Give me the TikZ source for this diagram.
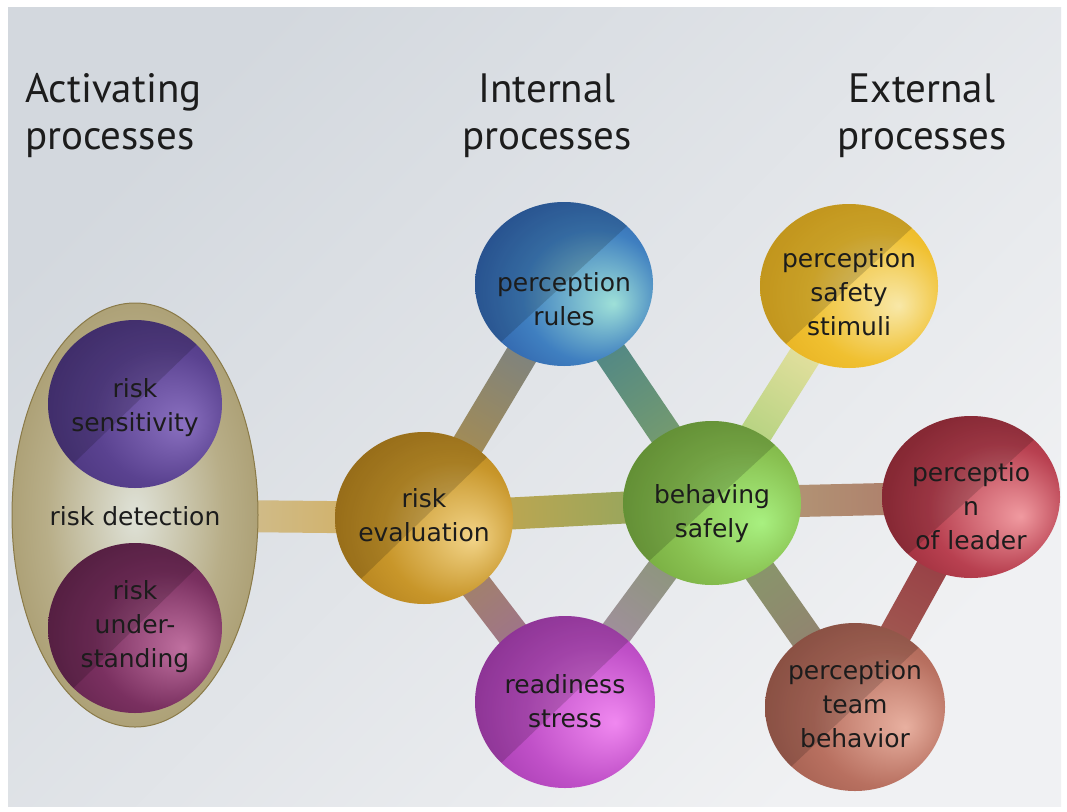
\documentclass[tikz,border=0pt]{standalone}
\usepackage{fontspec}
\setmainfont{DejaVu Sans}
\newfontfamily\headfont{PT Sans}
\usetikzlibrary{shapes.geometric,calc}
\pgfdeclarelayer{back}
\pgfdeclarelayer{bars}
\pgfsetlayers{back,bars,main}

% ball colours: light, mid, dark
\definecolor{prL}{HTML}{9EE0D8}\definecolor{prM}{HTML}{3F7FC0}\definecolor{prD}{HTML}{1D3D8F}
\definecolor{psL}{HTML}{F8E8A8}\definecolor{psM}{HTML}{F0C030}\definecolor{psD}{HTML}{DCA010}
\definecolor{bsL}{HTML}{A8F080}\definecolor{bsM}{HTML}{88C050}\definecolor{bsD}{HTML}{5F8F2A}
\definecolor{plL}{HTML}{F09AA0}\definecolor{plM}{HTML}{B84050}\definecolor{plD}{HTML}{7A1822}
\definecolor{ptL}{HTML}{E8B0A0}\definecolor{ptM}{HTML}{B87060}\definecolor{ptD}{HTML}{8A4A3C}
\definecolor{rdL}{HTML}{F088F0}\definecolor{rdM}{HTML}{C050C8}\definecolor{rdD}{HTML}{8A2896}
\definecolor{reL}{HTML}{F2D488}\definecolor{reM}{HTML}{C8962A}\definecolor{reD}{HTML}{9A680E}
\definecolor{rsL}{HTML}{8A70C0}\definecolor{rsM}{HTML}{5A4290}\definecolor{rsD}{HTML}{3A2868}
\definecolor{ruL}{HTML}{C070A0}\definecolor{ruM}{HTML}{7A3060}\definecolor{ruD}{HTML}{4A1838}
\definecolor{deL}{HTML}{DFE2D8}\definecolor{deM}{HTML}{B8AE88}\definecolor{deD}{HTML}{9A8A58}\definecolor{deE}{HTML}{8A7A48}
\definecolor{bgA}{HTML}{D3D8DE}\definecolor{bgB}{HTML}{F0F1F3}
\definecolor{txt}{HTML}{1C1C1C}

\newcommand\mkball[4]{%
  \pgfdeclareradialshading{ball#1}{\pgfpoint{14bp}{-6bp}}{color(0bp)=(#2); color(20bp)=(#3); color(46bp)=(#4); color(50bp)=(#4)}}
\mkball{pr}{prL}{prM}{prD}
\mkball{ps}{psL}{psM}{psD}
\mkball{bs}{bsL}{bsM}{bsD}
\mkball{pl}{plL}{plM}{plD}
\mkball{pt}{ptL}{ptM}{ptD}
\mkball{rd}{rdL}{rdM}{rdD}
\mkball{re}{reL}{reM}{reD}
\mkball{rs}{rsL}{rsM}{rsD}
\mkball{ru}{ruL}{ruM}{ruD}
\pgfdeclareradialshading{detshade}{\pgfpoint{0bp}{0bp}}{color(0bp)=(deL); color(18bp)=(deM); color(38bp)=(deD); color(50bp)=(deE)}

\newcommand\conn[4]{%
  \pgfmathanglebetweenpoints{\pgfpointanchor{#1}{center}}{\pgfpointanchor{#2}{center}}%
  \pgfmathsetmacro\barang{\pgfmathresult+90}%
  \path[top color=#3, bottom color=#4, shading angle=\barang]
    ($(#1.center)!16pt!90:(#2.center)$) -- ($(#2.center)!16pt!-90:(#1.center)$) --
    ($(#2.center)!16pt!90:(#1.center)$) -- ($(#1.center)!16pt!-90:(#2.center)$) -- cycle;}

\tikzset{
  ball/.style={ellipse, inner sep=0pt, minimum width=178pt, minimum height=164pt,
    shade, shading=ball#1,
    path picture={\fill[black,opacity=.16] (path picture bounding box.south west) --
      (path picture bounding box.north east) -- (path picture bounding box.north west) -- cycle;}},
  lab/.style={align=center, font=\fontsize{25}{34}\selectfont, text=txt, inner sep=0pt},
  head/.style={font=\headfont\fontsize{41}{47}\selectfont, text=txt, inner sep=0pt},
}

\begin{document}
\begin{tikzpicture}[x=1pt,y=-1pt]
\useasboundingbox (0,0) rectangle (1067,811);
\begin{pgfonlayer}{back}
  \fill[white] (0,0) rectangle (1067,811);
  \shade[top color=bgA, bottom color=bgB, shading angle=45] (8,7) rectangle (1061,806);
\end{pgfonlayer}

% headings
\node[head, align=left, anchor=west] (h1) at (25,116) {Activating\\processes};
\node[head, align=center] (h2) at (547,116) {Internal\\processes};
\node[head, align=center] (h3) at (922,116) {External\\processes};

% risk detection group
\node[ellipse, inner sep=0pt, minimum width=246pt, minimum height=424pt, shade, shading=detshade,
      draw=deE, line width=1pt] (det) at (135,515) {};
\node[lab] (dett) at (135,516) {risk detection};
\node[ball=rs, minimum width=174pt, minimum height=168pt] (rs) at (135,404) {};
\node[lab] (rst) at (135,408) {risk\\sensitivity};
\node[ball=ru, minimum width=174pt, minimum height=170pt] (ru) at (135,628) {};
\node[lab] (rut) at (135,627) {risk\\under-\\standing};

% balls
\node[ball=re, minimum height=172pt] (re) at (424,518) {};
\node[lab] (ret) at (424,515) {risk\\evaluation};
\node[ball=pr] (pr) at (564,284) {};
\node[lab] (prt) at (564,299) {perception\\rules};
\node[ball=rd, minimum width=180pt, minimum height=172pt] (rd) at (565,702) {};
\node[lab] (rdt) at (565,701) {readiness\\stress};
\node[ball=bs] (bs) at (712,503) {};
\node[lab] (bst) at (712,514) {behaving\\safely};
\node[ball=ps] (ps) at (849,286) {};
\node[lab] (pst) at (849,292) {perception\\safety\\stimuli};
\node[ball=pl, minimum height=162pt] (pl) at (971,497) {};
\node[lab] (plt) at (971,506) {perceptio\\n\\of leader};
\node[ball=pt, minimum width=180pt, minimum height=168pt] (pt) at (855,707) {};
\node[lab] (ptt) at (855,704) {perception\\team\\behavior};

% connecting bars
\begin{pgfonlayer}{bars}
  \conn{det}{re}{deM!70!white}{reM!80!white}
  \conn{re}{pr}{reM!70!gray}{prM!25!gray}
  \conn{re}{bs}{reM!85!white}{bsM!60!gray}
  \conn{re}{rd}{reM!50!gray}{rdM!45!gray}
  \conn{pr}{bs}{prM!40!teal!60!gray}{bsM!55!gray}
  \conn{rd}{bs}{rdM!35!gray!80!white}{bsM!40!gray}
  \conn{bs}{ps}{bsM!80!white}{psM!40!white}
  \conn{bs}{pl}{reM!45!gray!80!white}{ptM!80!gray}
  \conn{bs}{pt}{bsM!50!gray}{ptM!40!gray}
  \conn{pl}{pt}{plM!80!black}{ptM!90!black}
\end{pgfonlayer}
\end{tikzpicture}
\end{document}
